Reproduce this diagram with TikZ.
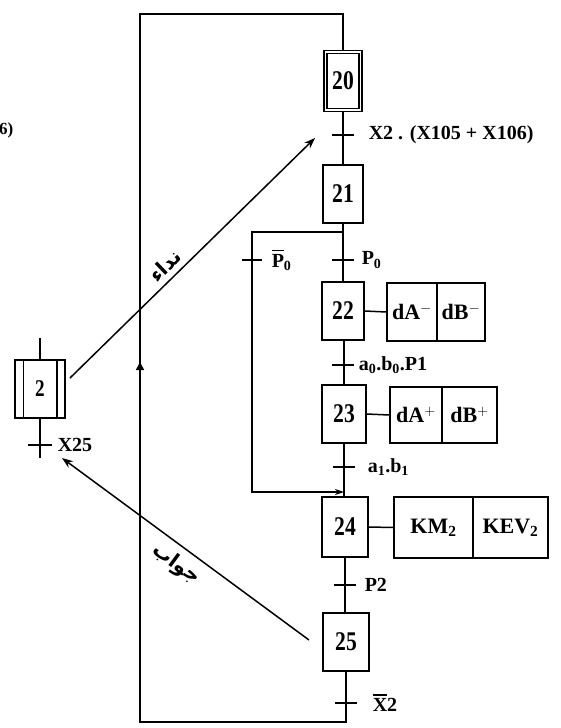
\documentclass[tikz,border=0pt]{standalone}
\usepackage{fontspec}
\setmainfont{Liberation Serif}
\newfontfamily\stepfont[FakeStretch=0.8]{Liberation Serif}
\newfontfamily\arabicfont[Script=Arabic]{DejaVu Sans}
\TeXXeTstate=1
\usetikzlibrary{arrows.meta}
\newlength\barwd
\newcommand\barred[1]{\settowidth\barwd{#1}\rlap{\rule[0.8em]{\barwd}{1.4pt}}#1}
\begin{document}
\begin{tikzpicture}[x=1pt,y=-1pt,line width=1.5pt,
  stepbox/.style={draw,minimum width=42pt,minimum height=58pt,inner sep=0pt,
    font=\stepfont\bfseries\fontsize{27}{29}\selectfont},
  actbox/.style={draw,minimum height=58pt,inner sep=0pt,
    font=\bfseries\fontsize{22}{24}\selectfont},
  lbl/.style={anchor=west,inner sep=0pt,font=\bfseries\fontsize{20}{22}\selectfont},
  arlbl/.style={inner sep=0pt,font=\arabicfont\bfseries\fontsize{20}{22}\selectfont},
  arr/.style={-{Stealth[length=11pt,width=8pt]}}]
\useasboundingbox (0,0) rectangle (561,728);

% steps of the main sequence
\node[stepbox,minimum width=35pt,minimum height=58pt,double,double distance=1.6pt,line width=1.6pt] (s20) at (343,81) {20};
\node[stepbox,minimum width=40pt] (s21) at (343,194) {21};
\node[stepbox] (s22) at (343,311) {22};
\node[stepbox,minimum width=44pt] (s23) at (344,414) {23};
\node[stepbox,minimum width=46pt,minimum height=60pt] (s24) at (345,527) {24};
\node[stepbox,minimum width=46pt] (s25) at (346,642) {25};

% actions
\node[actbox,minimum width=50pt] (a22a) at (412,312) {dA$^{-}$};
\node[actbox,minimum width=48pt] (a22b) at (461,312) {dB$^{-}$};
\node[actbox,minimum width=52pt,minimum height=56pt] (a23a) at (416,415) {dA$^{+}$};
\node[actbox,minimum width=55pt,minimum height=56pt] (a23b) at (469.5,415) {dB$^{+}$};
\node[actbox,minimum width=79pt,minimum height=61pt] (a24a) at (433.5,527.5) {KM\textsubscript{2}};
\node[actbox,minimum width=75pt,minimum height=61pt] (a24b) at (510.5,527.5) {KEV\textsubscript{2}};
\draw (s22.east) -- (a22a.west);
\draw (s23.east) -- (a23a.west);
\draw (s24.east) -- (a24a.west);

% transitions on the main line
\coordinate (t20) at (343,135);
\coordinate (t21) at (343,260);
\coordinate (t22) at (343,365);
\coordinate (t23) at (344,467);
\coordinate (t24) at (345,585);
\coordinate (t25) at (346,703);
\draw (s20.south) -- (s21.north);
\draw (s21.south) -- (s22.north);
\draw (s22.south) -- (s23.north |- s22.south);
\draw (s23.north |- s22.south) -- (s23.north);
\draw (s23.south) -- (s24.north -| s23.south);
\draw (s24.north -| s23.south) -- (s24.north);
\draw (s24.south) -- (s25.north -| s24.south);
\draw (s25.north -| s24.south) -- (s25.north);
\foreach \t in {t20,t21,t22,t23,t24,t25}
  \draw ([xshift=-11pt]\t) -- ([xshift=11pt]\t);
\node[lbl] (l20) at ([xshift=25pt]t20) {X2 . (X105 + X106)};
\node[lbl] (l21) at ([xshift=18pt]t21) {P\textsubscript{0}};
\node[lbl] (l22) at ([xshift=15pt]t22) {a\textsubscript{0}.b\textsubscript{0}.P1};
\node[lbl] (l23) at ([xshift=23pt]t23) {a\textsubscript{1}.b\textsubscript{1}};
\node[lbl] (l24) at ([xshift=19pt]t24) {P2};
\node[lbl] (l25) at ([xshift=26pt]t25) {\barred{X}2};

% loop back from 25 to 20
\coordinate (br) at (346,722);
\coordinate (bl) at (140,722);
\coordinate (ml) at (140,362);
\coordinate (tl) at (140,14);
\coordinate (tr) at (343,14);
\draw (s25.south) -- (br) -- (bl) -- (ml);
\draw[-{Triangle[length=8pt,width=8pt]}] (bl) -- (ml);
\draw (ml) -- (tl) -- (tr) -- (s20.north);

% skip branch P0 bar
\coordinate (ba) at (343,232);
\coordinate (bb) at (252,232);
\coordinate (bc) at (252,492);
\coordinate (bd) at (344,492);
\coordinate (tb) at (252,260);
\draw[-{Stealth[length=9pt,width=6pt]}] (ba) -- (bb) -- (bc) -- (bd);
\draw ([xshift=-10pt]tb) -- ([xshift=10pt]tb);
\node[lbl] (lb) at ([xshift=19pt]tb) {\barred{P}\textsubscript{0}};

% step 2 of the other grafcet
\node[draw,minimum width=50pt,minimum height=58pt,inner sep=0pt,
  font=\stepfont\bfseries\fontsize{24}{26}\selectfont] (s2) at (40,389) {2};
\draw ([xshift=9pt]s2.north west) -- ([xshift=9pt]s2.south west);
\draw ([xshift=-9pt]s2.north east) -- ([xshift=-9pt]s2.south east);
\coordinate (s2top) at (40,338);
\coordinate (s2bot) at (40,458);
\coordinate (t2) at (40,445);
\draw (s2top) -- (s2.north);
\draw (s2.south) -- (s2bot);
\draw ([xshift=-12pt]t2) -- ([xshift=12pt]t2);
\node[lbl] (l2) at ([xshift=17pt]t2) {X25};

% call and answer arrows
\coordinate (c1) at (70,378);
\coordinate (c2) at (315,138);
\coordinate (c3) at (309,640);
\coordinate (c4) at (62,458);
\draw[arr] (c1) -- (c2);
\draw[arr] (c3) -- (c4);
\node[arlbl,rotate=44] (ar1) at (165,266) {\beginR نداء\endR};
\node[arlbl,rotate=-36.5] (ar2) at (176,564) {\beginR جواب\endR};

% cut-off text at the left border
\node[anchor=east,inner sep=0pt,font=\bfseries\fontsize{17}{19}\selectfont] (cut) at (14,130) {6)};
\end{tikzpicture}
\end{document}
